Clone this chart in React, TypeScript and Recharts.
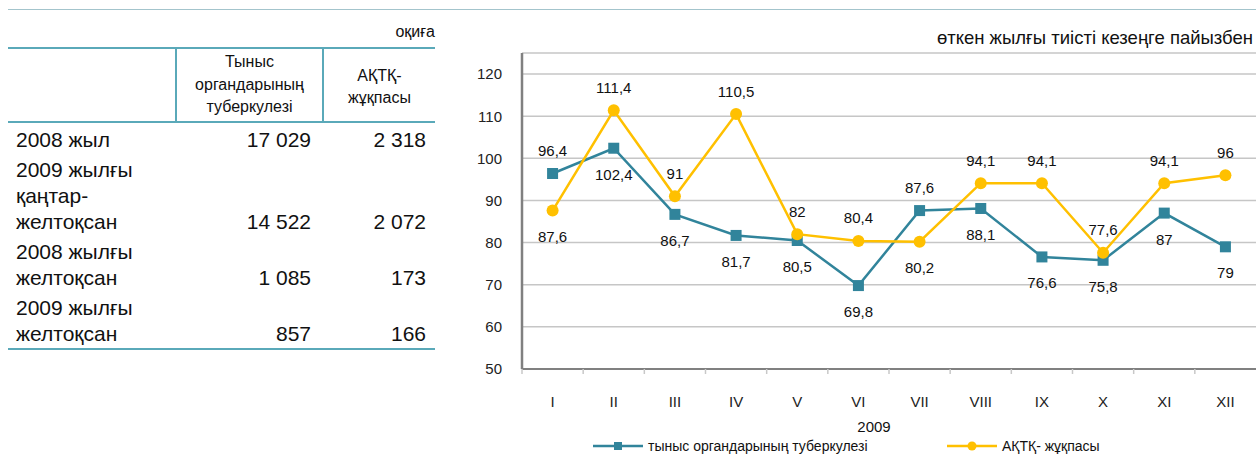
import { CartesianGrid, Line, LineChart, XAxis, YAxis } from "recharts";

const months = ["I", "II", "III", "IV", "V", "VI", "VII", "VIII", "IX", "X", "XI", "XII"];
const tbValues = [96.4, 102.4, 86.7, 81.7, 80.5, 69.8, 87.6, 88.1, 76.6, 75.8, 87, 79];
const hivValues = [87.6, 111.4, 91, 110.5, 82, 80.4, 80.2, 94.1, 94.1, 77.6, 94.1, 96];
const yTicks = [50, 60, 70, 80, 90, 100, 110, 120];

const tbName = "тыныс органдарының туберкулезі";
const hivName = "АҚТҚ- жұқпасы";
const yearLabel = "2009";

const tableRows = [
  { label: ["2008 жыл"], tb: "17 029", hiv: "2 318" },
  { label: ["2009 жылғы", "қаңтар-", "желтоқсан"], tb: "14 522", hiv: "2 072" },
  { label: ["2008 жылғы", "желтоқсан"], tb: "1 085", hiv: "173" },
  { label: ["2009 жылғы", "желтоқсан"], tb: "857", hiv: "166" },
];

const data = months.map((m, i) => ({ month: m, tb: tbValues[i], hiv: hivValues[i] }));

const FONT = '"Liberation Sans", Arial, sans-serif';
const TEAL = "#31849b";
const YELLOW = "#ffc000";
const LINE_TABLE = "#5aa9b9";

const CHART_LEFT = 460;
const CHART_W = 796;
const Y_AXIS_W = 62;
const BAND = (CHART_W - Y_AXIS_W) / months.length;

const fmt = (v: number) => String(v).replace(".", ",");

function makeLabel(own: number[], other: number[]) {
  return (props: any) => {
    const { x, y, index } = props;
    const above = own[index] > other[index];
    return (
      <text
        x={x}
        y={above ? y - 23 : y + 26}
        textAnchor="middle"
        dominantBaseline="central"
        fontSize={15}
        fontFamily={FONT}
        fill="#111"
      >
        {fmt(own[index])}
      </text>
    );
  };
}

function SquareDot(props: any) {
  const { cx, cy } = props;
  if (cx == null || cy == null) return null;
  return <rect x={cx - 5.5} y={cy - 5.5} width={11} height={11} fill={TEAL} />;
}

function MonthTick(props: any) {
  const { x, y, payload } = props;
  return (
    <g>
      <line x1={x - BAND / 2} x2={x - BAND / 2} y1={y} y2={y + 5} stroke="#c8c8c8" strokeWidth={1.5} />
      <text x={x} y={y + 32} textAnchor="middle" dominantBaseline="central" fontSize={15} fontFamily={FONT} fill="#222">
        {payload.value}
      </text>
    </g>
  );
}

export default function App() {
  return (
    <div
      style={{
        position: "fixed",
        left: 0,
        top: 0,
        width: 1256,
        height: 456,
        background: "#fff",
        fontFamily: FONT,
        color: "#111",
        overflow: "hidden",
      }}
    >
      <div style={{ position: "absolute", left: 8, top: 9, width: 1248, height: 0, borderTop: "1.5px solid #a3c4cc" }} />

      {/* table */}
      <div style={{ position: "absolute", left: 8, top: 22, width: 427, textAlign: "right", fontSize: 16, lineHeight: "20px" }}>
        оқиға
      </div>
      <div style={{ position: "absolute", left: 8, top: 47, width: 427 }}>
        <div
          style={{
            display: "flex",
            height: 72,
            borderTop: `2px solid ${LINE_TABLE}`,
            borderBottom: `2px solid ${LINE_TABLE}`,
            fontSize: 16,
            lineHeight: "22.5px",
          }}
        >
          <div style={{ width: 167 }} />
          <div
            style={{
              width: 145,
              borderLeft: `2px solid ${LINE_TABLE}`,
              borderRight: `2px solid ${LINE_TABLE}`,
              display: "flex",
              alignItems: "center",
              justifyContent: "center",
              textAlign: "center",
            }}
          >
            <div>
              Тыныс
              <br />
              органдарының
              <br />
              туберкулезі
            </div>
          </div>
          <div style={{ flex: 1, display: "flex", alignItems: "center", justifyContent: "center", textAlign: "center", paddingTop: 4 }}>
            <div>
              АҚТҚ-
              <br />
              жұқпасы
            </div>
          </div>
        </div>
        <div style={{ fontSize: 21, lineHeight: "26px", borderBottom: `2px solid ${LINE_TABLE}`, paddingBottom: 1 }}>
          {tableRows.map((r, i) => (
            <div key={i} style={{ display: "flex", alignItems: "flex-end", paddingTop: 4 }}>
              <div style={{ width: 167, paddingLeft: 8, boxSizing: "border-box" }}>
                {r.label.map((l, j) => (
                  <div key={j}>{l}</div>
                ))}
              </div>
              <div style={{ width: 145, textAlign: "right", paddingRight: 9, boxSizing: "border-box" }}>{r.tb}</div>
              <div style={{ flex: 1, textAlign: "right", paddingRight: 9, boxSizing: "border-box" }}>{r.hiv}</div>
            </div>
          ))}
        </div>
      </div>

      {/* chart */}
      <div style={{ position: "absolute", right: 3, top: 27, fontSize: 18.5, lineHeight: "22px", whiteSpace: "nowrap" }}>
        өткен жылғы тиісті кезеңге пайызбен
      </div>
      <div style={{ position: "absolute", left: CHART_LEFT, top: 40 }}>
        <LineChart width={CHART_W} height={380} data={data} margin={{ top: 13, right: 0, bottom: 0, left: 0 }}>
          <CartesianGrid vertical={false} stroke="#c6c6c6" strokeWidth={1.5} />
          <XAxis
            dataKey="month"
            height={51}
            padding={{ left: BAND / 2, right: BAND / 2 }}
            axisLine={{ stroke: "#808080", strokeWidth: 2 }}
            tickLine={false}
            tickSize={0}
            tickMargin={0}
            interval={0}
            tick={<MonthTick />}
          />
          <YAxis
            domain={[50, 125]}
            ticks={yTicks}
            width={Y_AXIS_W}
            axisLine={{ stroke: "#808080", strokeWidth: 2.5 }}
            tickLine={false}
            tickSize={6}
            tickMargin={14}
            tick={{ fill: "#222", fontSize: 15, fontFamily: FONT }}
          />
          <Line
            dataKey="tb"
            name={tbName}
            stroke={TEAL}
            strokeWidth={2.5}
            dot={<SquareDot />}
            label={makeLabel(tbValues, hivValues)}
            isAnimationActive={false}
          />
          <Line
            dataKey="hiv"
            name={hivName}
            stroke={YELLOW}
            strokeWidth={2.5}
            dot={{ r: 6, fill: YELLOW, stroke: YELLOW, strokeWidth: 0 }}
            label={makeLabel(hivValues, tbValues)}
            isAnimationActive={false}
          />
        </LineChart>
      </div>

      <div style={{ position: "absolute", left: 834, width: 80, top: 417, textAlign: "center", fontSize: 15, lineHeight: "20px" }}>
        {yearLabel}
      </div>

      {/* legend */}
      <div style={{ position: "absolute", left: 593, top: 438, height: 16, display: "flex", alignItems: "center", fontSize: 14 }}>
        <svg width={50} height={16}>
          <line x1={0} x2={50} y1={8} y2={8} stroke={TEAL} strokeWidth={2.5} />
          <rect x={21} y={4} width={8} height={8} fill={TEAL} />
        </svg>
        <span style={{ marginLeft: 5 }}>{tbName}</span>
      </div>
      <div style={{ position: "absolute", left: 947, top: 438, height: 16, display: "flex", alignItems: "center", fontSize: 14 }}>
        <svg width={50} height={16}>
          <line x1={0} x2={50} y1={8} y2={8} stroke={YELLOW} strokeWidth={2.5} />
          <circle cx={25} cy={8} r={4.5} fill={YELLOW} />
        </svg>
        <span style={{ marginLeft: 5 }}>{hivName}</span>
      </div>
    </div>
  );
}
